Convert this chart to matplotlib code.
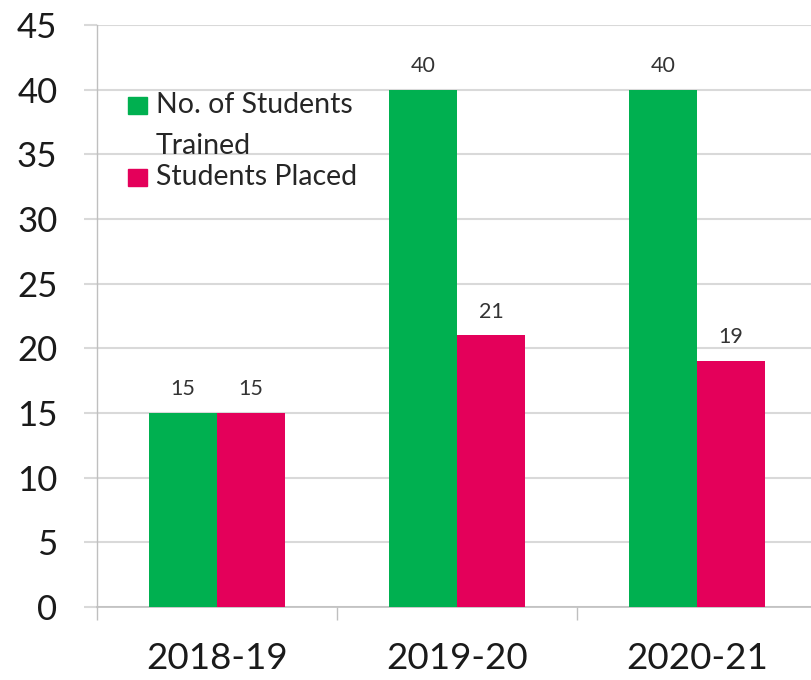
import matplotlib.pyplot as plt
import numpy as np
from matplotlib.patches import Rectangle

years = ['2018-19', '2019-20', '2020-21']
trained = [15, 40, 40]
placed = [15, 21, 19]
series_names = ['No. of Students\nTrained', 'Students Placed']
green = '#00B050'
pink = '#E4005A'

plt.rcParams['font.family'] = ['Lato', 'DejaVu Sans']

W, H = 811, 680
fig = plt.figure(figsize=(W / 100, H / 100), dpi=100)
# axes: x from 97px to 817px (past the right edge), y from 607px (0) to 25px (45)
ax = fig.add_axes([97 / W, 73 / H, 720 / W, 582 / H])

x = np.arange(len(years))
w = 68 / 240
b1 = ax.bar(x - w / 2, trained, w, color=green, zorder=3)
b2 = ax.bar(x + w / 2, placed, w, color=pink, zorder=3)

for bars in (b1, b2):
    for r in bars:
        ax.annotate(str(int(r.get_height())), (r.get_x() + r.get_width() / 2, r.get_height()),
                    xytext=(0, 10), textcoords='offset points', ha='center', va='bottom',
                    fontsize=15.5, color='#333333')

ax.set_xlim(-0.5, 2.5)
ax.set_ylim(0, 45)
ax.set_yticks(np.arange(0, 46, 5))
ax.yaxis.grid(True, color='#d9d9d9', lw=1.5, zorder=0)
ax.set_axisbelow(True)

ax.set_xticks([-0.5, 0.5, 1.5, 2.5])
ax.set_xticklabels([])
ax.set_xticks(x, minor=True)
ax.set_xticklabels(years, minor=True)
ax.tick_params(axis='x', which='major', length=9.5, width=1, color='#bfbfbf', direction='out')
ax.tick_params(axis='x', which='minor', length=0, pad=25, labelsize=26.5, labelcolor='#1a1a1a')
ax.tick_params(axis='y', length=9.5, width=1.5, color='#d9d9d9', pad=19, labelsize=25,
               labelcolor='#1a1a1a')

for s in ('top', 'right'):
    ax.spines[s].set_visible(False)
ax.spines['left'].set_color('#bfbfbf')
ax.spines['bottom'].set_color('#bfbfbf')
ax.spines['left'].set_linewidth(1)
ax.spines['bottom'].set_linewidth(1.2)

# legend drawn by hand so the marker lines up with the first text line
lines1 = series_names[0].split('\n')
fig.patches.append(Rectangle((128 / W, 1 - 114 / H), 19 / W, 17 / H, color=green,
                             transform=fig.transFigure, figure=fig))
fig.patches.append(Rectangle((128 / W, 1 - 186 / H), 19 / W, 17 / H, color=pink,
                             transform=fig.transFigure, figure=fig))
fig.text(156 / W, 1 - 113 / H, lines1[0], fontsize=20.5, color='#262626', va='baseline')
fig.text(156 / W, 1 - 154 / H, lines1[1], fontsize=20.5, color='#262626', va='baseline')
fig.text(156 / W, 1 - 185 / H, series_names[1], fontsize=20.5, color='#262626', va='baseline')

fig.savefig('out.png', dpi=100)
